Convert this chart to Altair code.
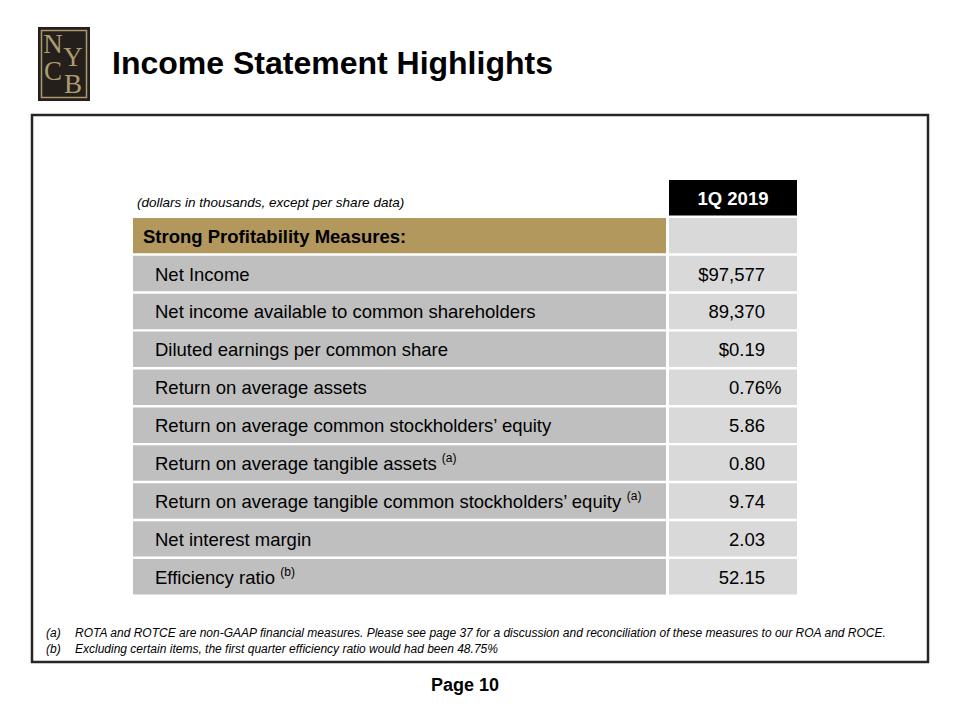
import altair as alt
import pandas as pd

# ---------------- data ----------------
title_text = "Income Statement Highlights"
column_header = "1Q 2019"
units_note = "(dollars in thousands, except per share data)"
row_labels = [
    "Strong Profitability Measures:",
    "Net Income",
    "Net income available to common shareholders",
    "Diluted earnings per common share",
    "Return on average assets",
    "Return on average common stockholders\u2019 equity",
    "Return on average tangible assets",
    "Return on average tangible common stockholders\u2019 equity",
    "Net interest margin",
    "Efficiency ratio",
]
row_values = ["", "$97,577", "89,370", "$0.19", "0.76", "5.86", "0.80", "9.74", "2.03", "52.15"]
value_suffix = ["", "", "", "", "%", "", "", "", "", ""]
row_notes = ["", "", "", "", "", "", "(a)", "(a)", "", "(b)"]
footnote_marks = ["(a)", "(b)"]
footnote_texts = [
    "ROTA and ROTCE are non-GAAP financial measures. Please see page 37 for a discussion and reconciliation of these measures to our ROA and ROCE.",
    "Excluding certain items, the first quarter efficiency ratio would had been 48.75%",
]
page_label = "Page 10"
logo_letters = ["N", "Y", "C", "B"]

# ---------------- style ----------------
W, H = 944, 704
FONT = "Liberation Sans"
SERIF = "Liberation Serif"
LABEL_FS = 18.5
GOLD = "#b3985e"
LABEL_GRAY = "#bfbfbf"
VALUE_GRAY = "#d9d9d9"

# Arial / Liberation Sans advance widths (1/1000 em) used to place superscripts
ARIAL = {" ": 278, "\u2019": 222, "a": 556, "b": 556, "c": 500, "d": 556, "e": 556,
         "f": 278, "g": 556, "h": 556, "i": 222, "j": 222, "k": 500, "l": 222,
         "m": 833, "n": 556, "o": 556, "p": 556, "q": 556, "r": 333, "s": 500,
         "t": 278, "u": 556, "v": 500, "w": 722, "x": 500, "y": 500, "z": 500,
         "E": 667, "R": 722, "N": 722, "D": 722, "I": 278}


def text_width(s, fs):
    return sum(ARIAL.get(ch, 556) for ch in s) * fs / 1000.0


LABEL_X = 147
rows = pd.DataFrame({
    "r": list(range(1, len(row_labels) + 1)),
    "label": row_labels,
    "value": row_values,
    "suffix": value_suffix,
    "note": row_notes,
})
rows["kind"] = ["section"] + ["item"] * (len(row_labels) - 1)
rows["nx"] = [LABEL_X + text_width(l, LABEL_FS) + 5 for l in row_labels]

header = pd.DataFrame({"r": [0], "t": [column_header]})

yscale = alt.Scale(type="band", domain=list(range(len(row_labels) + 1)),
                   range=[172, 586.5], paddingInner=0.065, paddingOuter=0)
Y = alt.Y("r:O", scale=yscale, axis=None)

one = pd.DataFrame({"k": [0]})

# outer frame
frame = alt.Chart(one).mark_rect(fill="transparent", stroke="#262626", strokeWidth=2.5).encode(
    x=alt.value(24), x2=alt.value(920), y=alt.value(107), y2=alt.value(654))

# logo
logo_bg = alt.Chart(one).mark_rect(fill="#241f1b").encode(
    x=alt.value(30), x2=alt.value(82), y=alt.value(19), y2=alt.value(93))
logo_frame = alt.Chart(one).mark_rect(fill="transparent", stroke="#a8996f", strokeWidth=1.5).encode(
    x=alt.value(33.5), x2=alt.value(78.5), y=alt.value(22.5), y2=alt.value(89.5))
logo_df = pd.DataFrame({"letter": logo_letters, "col": [0, 1, 0, 1], "row": [0, 1, 2, 3]})
logo_text = alt.Chart(logo_df).mark_text(font=SERIF, fontSize=27, color="#ab9c72",
                                         baseline="middle", align="center", dy=2).encode(
    x=alt.X("col:O", scale=alt.Scale(type="point", domain=[0, 1], range=[45, 65], padding=0), axis=None),
    y=alt.Y("row:O", scale=alt.Scale(type="point", domain=[0, 1, 2, 3], range=[35, 75], padding=0), axis=None),
    text="letter:N")

title = alt.Chart(pd.DataFrame({"t": [title_text]})).mark_text(
    font=FONT, fontSize=32, fontWeight="bold", align="left", baseline="alphabetic", color="#000000").encode(
    x=alt.value(104), y=alt.value(66), text="t:N")

units = alt.Chart(pd.DataFrame({"t": [units_note]})).mark_text(
    font=FONT, fontSize=13.5, fontStyle="italic", align="left", baseline="middle", color="#000000").encode(
    x=alt.value(129), y=alt.value(195), text="t:N")

# header cell
hdr_cell = alt.Chart(header).mark_rect(fill="#000000").encode(
    x=alt.value(661), x2=alt.value(789), y=Y)
hdr_text = alt.Chart(header).mark_text(
    font=FONT, fontSize=18.5, fontWeight="bold", color="#ffffff", baseline="middle", dy=1).encode(
    x=alt.value(725), y=Y, text="t:N")

# body cells
label_cells = alt.Chart(rows).mark_rect().encode(
    x=alt.value(125), x2=alt.value(658), y=Y,
    fill=alt.Fill("kind:N", scale=alt.Scale(domain=["section", "item"], range=[GOLD, LABEL_GRAY]), legend=None))
value_cells = alt.Chart(rows).mark_rect(fill=VALUE_GRAY).encode(
    x=alt.value(661), x2=alt.value(789), y=Y)

section_text = alt.Chart(rows).transform_filter("datum.kind == 'section'").mark_text(
    font=FONT, fontSize=LABEL_FS, fontWeight="bold", align="left", baseline="middle", color="#000000", dy=1).encode(
    x=alt.value(135), y=Y, text="label:N")
item_text = alt.Chart(rows).transform_filter("datum.kind == 'item'").mark_text(
    font=FONT, fontSize=LABEL_FS, align="left", baseline="middle", color="#000000", dy=1).encode(
    x=alt.value(LABEL_X), y=Y, text="label:N")
note_text = alt.Chart(rows).transform_filter("datum.note != ''").mark_text(
    font=FONT, fontSize=12, align="left", baseline="middle", color="#000000", dy=-5).encode(
    x=alt.X("nx:Q", scale=None), y=Y, text="note:N")
value_text = alt.Chart(rows).mark_text(
    font=FONT, fontSize=LABEL_FS, align="right", baseline="middle", color="#000000", dy=1).encode(
    x=alt.value(757), y=Y, text="value:N")
suffix_text = alt.Chart(rows).transform_filter("datum.suffix != ''").mark_text(
    font=FONT, fontSize=LABEL_FS, align="left", baseline="middle", color="#000000", dy=1).encode(
    x=alt.value(757), y=Y, text="suffix:N")

# footnotes
fn = pd.DataFrame({"i": [0, 1], "m": footnote_marks, "t": footnote_texts})
fn_y = alt.Y("i:O", scale=alt.Scale(type="point", domain=[0, 1], range=[625, 641], padding=0), axis=None)
fn_marks = alt.Chart(fn).mark_text(font=FONT, fontSize=12, fontStyle="italic", align="left",
                                   baseline="middle", color="#000000").encode(
    x=alt.value(38), y=fn_y, text="m:N")
fn_texts = alt.Chart(fn).mark_text(font=FONT, fontSize=12, fontStyle="italic", align="left",
                                   baseline="middle", color="#000000").encode(
    x=alt.value(67), y=fn_y, text="t:N")

page = alt.Chart(pd.DataFrame({"t": [page_label]})).mark_text(
    font=FONT, fontSize=18, fontWeight="bold", align="center", baseline="middle", color="#000000").encode(
    x=alt.value(457), y=alt.value(678), text="t:N")

chart = alt.layer(
    frame, logo_bg, logo_frame, logo_text, title, units,
    label_cells, value_cells, hdr_cell, hdr_text,
    section_text, item_text, note_text, value_text, suffix_text,
    fn_marks, fn_texts, page,
).properties(width=W, height=H, padding=0, background="#ffffff").resolve_scale(
    x="independent", y="independent"
).configure_view(strokeWidth=0)

chart.save("out.html", embed_options={"renderer": "svg", "actions": False})
